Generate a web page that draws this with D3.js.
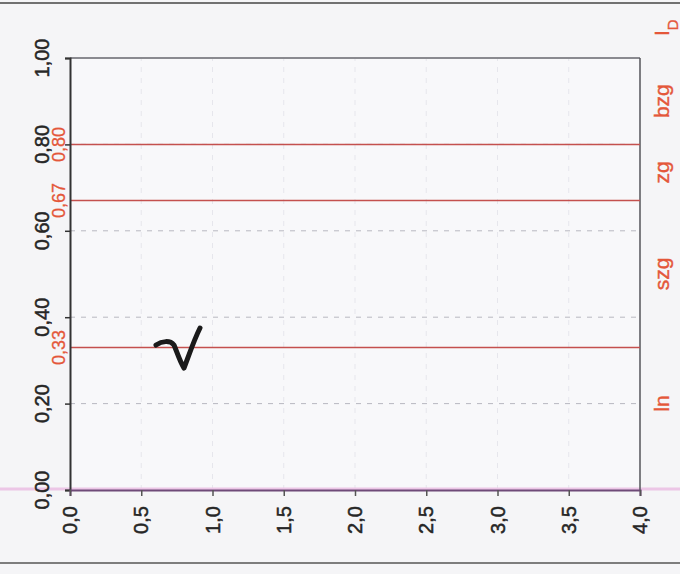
<!DOCTYPE html>
<html><head><meta charset="utf-8">
<script src="https://cdn.jsdelivr.net/npm/d3@7/dist/d3.min.js"></script>
<style>body{margin:0;background:#f5f5f7;} svg{display:block;}</style>
</head><body>
<script>
// Data
const thresholds = [0.33, 0.67, 0.80];
const thresholdLabels = ["0,33", "0,67", "0,80"];
const yTicks = [0, 0.2, 0.4, 0.6, 0.8, 1.0];
const yTickLabels = ["0,00", "0,20", "0,40", "0,60", "0,80", "1,00"];
const xTicks = [0, 0.5, 1.0, 1.5, 2.0, 2.5, 3.0, 3.5, 4.0];
const xTickLabels = ["0,0", "0,5", "1,0", "1,5", "2,0", "2,5", "3,0", "3,5", "4,0"];
const zoneLabels = ["ln", "szg", "zg", "bzg"];
const zonePositions = [0.2, 0.5, 0.735, 0.9];

const W = 680, H = 574;
const m = {left: 70, right: 40, top: 58, bottom: 84};
const svg = d3.select("body").append("svg").attr("width", W).attr("height", H);
svg.append("rect").attr("width", W).attr("height", H).attr("fill", "#f5f5f7");

const x = d3.scaleLinear().domain([0, 4]).range([m.left, W - m.right]);
const y = d3.scaleLinear().domain([0, 1]).range([H - m.bottom, m.top]);
const font = "'Liberation Sans', Arial, sans-serif";
const red = "#e4573a";

// scan frame lines
svg.append("line").attr("x1", 0).attr("x2", W).attr("y1", 3).attr("y2", 3).attr("stroke", "#444").attr("stroke-width", 1.5);
svg.append("line").attr("x1", 0).attr("x2", W).attr("y1", 563).attr("y2", 563).attr("stroke", "#555").attr("stroke-width", 1.5);

// plot background
svg.append("rect").attr("x", x(0)).attr("y", y(1)).attr("width", x(4) - x(0)).attr("height", y(0) - y(1)).attr("fill", "#f8f8fa");

// grid
svg.append("g").selectAll("line").data(yTicks.filter(d => d > 0 && d < 1)).join("line")
  .attr("x1", x(0)).attr("x2", x(4)).attr("y1", d => y(d)).attr("y2", d => y(d))
  .attr("stroke", "#b8b8c0").attr("stroke-width", 1).attr("stroke-dasharray", "5,6");
svg.append("g").selectAll("line").data(xTicks.filter(d => d > 0 && d < 4)).join("line")
  .attr("x1", d => x(d)).attr("x2", d => x(d)).attr("y1", y(0)).attr("y2", y(1))
  .attr("stroke", "#e6e6ec").attr("stroke-width", 1).attr("stroke-dasharray", "5,6");

// pink scan stripe along x axis
svg.append("line").attr("x1", 0).attr("x2", W).attr("y1", y(0) - 1).attr("y2", y(0) - 1).attr("stroke", "#ecc6e6").attr("stroke-width", 3);

// frame
svg.append("line").attr("x1", x(0)).attr("x2", x(4)).attr("y1", y(1)).attr("y2", y(1)).attr("stroke", "#8a8a90").attr("stroke-width", 2);
svg.append("line").attr("x1", x(4)).attr("x2", x(4)).attr("y1", y(1)).attr("y2", y(0)).attr("stroke", "#55555a").attr("stroke-width", 1.5);

// threshold lines
svg.append("g").selectAll("line").data(thresholds).join("line")
  .attr("x1", x(0)).attr("x2", x(4)).attr("y1", d => y(d)).attr("y2", d => y(d))
  .attr("stroke", "#c4504e").attr("stroke-width", 1.5);

// y axis
const yAxis = d3.axisLeft(y).tickValues(yTicks).tickSize(5).tickFormat("");
const gy = svg.append("g").attr("transform", `translate(${x(0)},0)`).call(yAxis);
gy.select(".domain").attr("stroke", "#333").attr("stroke-width", 2);
gy.selectAll(".tick line").attr("stroke", "#333").attr("stroke-width", 1.5);

// x axis
const xAxis = d3.axisBottom(x).tickValues(xTicks).tickSize(6).tickFormat("");
const gx = svg.append("g").attr("transform", `translate(0,${y(0)})`).call(xAxis);
gx.select(".domain").attr("stroke", "#6e4a78").attr("stroke-width", 2);
gx.selectAll(".tick line").attr("stroke", "#555").attr("stroke-width", 1.5);

// y tick labels (rotated)
svg.append("g").selectAll("text").data(yTicks).join("text")
  .attr("transform", (d) => `translate(49,${y(d)}) rotate(-90)`)
  .attr("text-anchor", "middle").attr("font-family", font).attr("font-size", 20)
  .attr("fill", "#262626").attr("stroke", "#262626").attr("stroke-width", 0.5)
  .text((d, i) => yTickLabels[i]);

// threshold labels (red)
svg.append("g").selectAll("text").data(thresholds).join("text")
  .attr("transform", (d) => `translate(65,${y(d)}) rotate(-90)`)
  .attr("text-anchor", "middle").attr("font-family", font).attr("font-size", 18)
  .attr("fill", red).attr("stroke", red).attr("stroke-width", 0.3)
  .text((d, i) => thresholdLabels[i]);

// x tick labels (rotated)
svg.append("g").selectAll("text").data(xTicks).join("text")
  .attr("transform", (d) => `translate(${x(d) + 7},520) rotate(-90)`)
  .attr("text-anchor", "middle").attr("font-family", font).attr("font-size", 20)
  .attr("fill", "#262626").attr("stroke", "#262626").attr("stroke-width", 0.5)
  .text((d, i) => xTickLabels[i]);

// zone labels right side
svg.append("g").selectAll("text").data(zoneLabels).join("text")
  .attr("transform", (d, i) => `translate(669,${y(zonePositions[i])}) rotate(-90)`)
  .attr("text-anchor", "middle").attr("font-family", font).attr("font-size", 21)
  .attr("fill", red).attr("stroke", red).attr("stroke-width", 0.4).text(d => d);

const id = svg.append("text").attr("transform", `translate(669,${y(1.07)}) rotate(-90)`)
  .attr("text-anchor", "middle").attr("font-family", font).attr("font-size", 21)
  .attr("fill", red).attr("stroke", red).attr("stroke-width", 0.4);
id.append("tspan").text("I");
id.append("tspan").attr("baseline-shift", "sub").attr("font-size", 15).text("D");

// handwritten check mark
svg.append("path")
  .attr("d", "M156,345 C162,341 170,340 174,345 C177,352 180,362 184,368 C189,355 194,340 200,328")
  .attr("fill", "none").attr("stroke", "#1a1a1a").attr("stroke-width", 5).attr("stroke-linecap", "round").attr("stroke-linejoin", "round");
</script>
</body></html>
